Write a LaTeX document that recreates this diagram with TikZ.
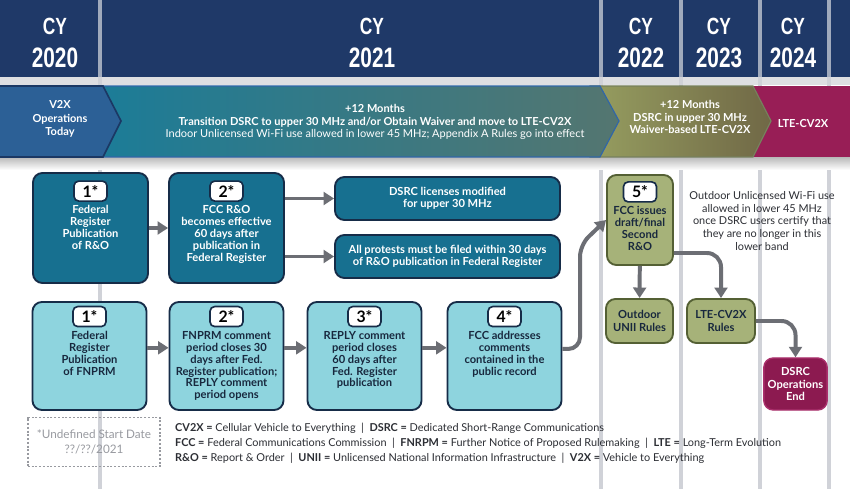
\documentclass[tikz,border=0pt]{standalone}
\usepackage{fontspec}
\setmainfont{Lato}
\newfontfamily\headfont{Liberation Sans}
\usepackage{graphicx}
\usetikzlibrary{positioning,arrows.meta,calc}
\definecolor{navy}{RGB}{31,57,104}
\definecolor{divline}{RGB}{208,210,216}
\definecolor{hdrline}{RGB}{160,170,188}
\definecolor{strip}{RGB}{222,223,226}
\definecolor{v2xblue}{RGB}{44,96,150}
\definecolor{v2xline}{RGB}{27,56,100}
\definecolor{bandteal}{RGB}{27,124,152}
\definecolor{bandtealend}{RGB}{84,118,112}
\definecolor{bandedge}{RGB}{48,102,168}
\definecolor{oliveA}{RGB}{150,158,96}
\definecolor{oliveB}{RGB}{204,204,152}
\definecolor{oliveC}{RGB}{112,104,70}
\definecolor{plum}{RGB}{152,30,86}
\definecolor{darkteal}{RGB}{23,112,144}
\definecolor{lightteal}{RGB}{142,212,222}
\definecolor{boxline}{RGB}{22,44,72}
\definecolor{olivefill}{RGB}{166,178,121}
\definecolor{oliveline}{RGB}{84,96,52}
\definecolor{plumfill}{RGB}{140,26,80}
\definecolor{plumline}{RGB}{170,48,108}
\definecolor{arrowgray}{RGB}{108,110,116}
\definecolor{inktext}{RGB}{24,40,62}
\definecolor{notetext}{RGB}{44,46,52}
\definecolor{legendgray}{RGB}{152,154,160}
\newcommand{\cyhead}[1]{{\fontsize{20}{28}\selectfont\scalebox{0.74}[1]{CY}}\\\scalebox{0.74}[1]{#1}}
\tikzset{
    hdr/.style={text=white, font=\headfont\bfseries\fontsize{24}{28}\selectfont, align=center},
    bandtext/.style={text=white, align=center, font=\fontsize{9.4}{10.4}\selectfont},
    dkbox/.style={draw=boxline, fill=darkteal, rounded corners=8pt, line width=1.6pt, minimum width=3.45cm, minimum height=3.3cm},
    ltbox/.style={draw=boxline, fill=lightteal, rounded corners=8pt, line width=1.6pt, minimum width=3.42cm, minimum height=3.24cm},
    widebox/.style={dkbox, minimum width=6.75cm, minimum height=1.29cm, text=white, align=center, font=\bfseries\fontsize{9.5}{10.4}\selectfont},
    olbox/.style={draw=oliveline, fill=olivefill, rounded corners=8pt, line width=1.6pt, text=inktext, align=center, font=\bfseries\fontsize{9.5}{10.4}\selectfont},
    endbox/.style={draw=plumline, fill=plumfill, rounded corners=8pt, line width=1.2pt, text=white, align=center, font=\bfseries\fontsize{9.5}{10.4}\selectfont, minimum width=1.77cm, minimum height=1.56cm},
    badge/.style={draw=boxline, fill=white, rounded corners=4pt, line width=1.4pt, minimum width=0.99cm, minimum height=0.6cm, inner sep=0pt, text=black, font=\bfseries\fontsize{13.5}{13.5}\selectfont},
    boxtext/.style={align=center, inner sep=0pt, font=\bfseries\fontsize{9.5}{10.2}\selectfont},
    arrow/.style={-{Triangle[length=9pt,width=11pt]}, line width=3.4pt, draw=arrowgray},
    datebox/.style={draw=legendgray, dash pattern=on 1.6pt off 1.6pt, line width=1pt, minimum width=3.96cm, minimum height=1.47cm, text=legendgray, align=center, font=\fontsize{10}{12.8}\selectfont},
    abbr/.style={text=notetext, align=left, inner sep=0pt, font=\fontsize{9.3}{12.8}\selectfont}
}
\begin{document}
\begin{tikzpicture}[x=0.03cm,y=-0.03cm]
\useasboundingbox (0,0) rectangle (850,489);
\fill[white] (0,0) rectangle (850,489);
\fill[strip] (0,77) rectangle (850,85);
\fill[navy] (0,0) rectangle (850,77);
\foreach \x in {100,601,681,760,829}{
    \draw[divline, line width=2.6pt] (\x,77) -- (\x,489);
    \draw[hdrline, line width=2.6pt] (\x,0) -- (\x,77);
}
\foreach \n/\x/\yr in {c20/55/2020,c21/372/2021,c22/641/2022,c23/719/2023,c24/793/2024}
    \node[hdr] (\n) at (\x,43) {\cyhead{\yr}};
\shade[top color=gray!55, bottom color=white] (0,157) rectangle (850,170);
\fill[plum] (745,86) rectangle (850,157);
\path[left color=oliveA, middle color=oliveB, right color=oliveC, draw=oliveline!80, line width=1pt] (590,86) -- (753,86) -- (771,121) -- (753,157) -- (590,157) -- cycle;
\path[left color=bandteal, middle color=bandteal, right color=bandtealend, draw=bandedge, line width=1pt] (95,86) -- (600,86) -- (619,121) -- (600,157) -- (95,157) -- cycle;
\path[fill=v2xblue, draw=v2xline, line width=1.4pt] (-2,86) -- (103,86) -- (121,121) -- (103,157) -- (-2,157) -- cycle;
\node[bandtext, font=\bfseries\fontsize{9.4}{11.6}\selectfont] (v2x) at (60,119) {V2X\\Operations\\Today};
\node[bandtext] (trans) at (375,122) {\textbf{+12 Months}\\\textbf{Transition DSRC to upper 30 MHz and/or Obtain Waiver and move to LTE-CV2X}\\Indoor Unlicensed Wi-Fi use allowed in lower 45 MHz; Appendix A Rules go into effect};
\node[bandtext, font=\bfseries\fontsize{9.4}{10.8}\selectfont] (waiver) at (690,117) {+12 Months\\DSRC in upper 30 MHz\\Waiver-based LTE-CV2X};
\node[bandtext, font=\bfseries\fontsize{9.4}{10.4}\selectfont] (ltecv) at (803,124) {LTE-CV2X};

\node[dkbox] (b1) at (90.5,228) {};
\node[badge, below=7pt of b1.north] (b1n) {1*};
\node[boxtext, text=white, below=3pt of b1n] (b1t) {Federal\\Register\\Publication\\of R\&O};
\node[dkbox] (b2) at (226.5,228) {};
\node[badge, below=7pt of b2.north] (b2n) {2*};
\node[boxtext, text=white, below=3pt of b2n] (b2t) {FCC R\&O\\becomes effective\\60 days after\\publication in\\Federal Register};
\node[widebox] (d1) at (447.5,198.5) {DSRC licenses modified\\for upper 30 MHz};
\node[widebox] (d2) at (447.5,256.5) {All protests must be filed within 30 days\\of R\&O publication in Federal Register};
\draw[arrow] (b1) -- (b2);
\draw[arrow] (b2.east |- d1) -- (d1);
\draw[arrow] (b2.east |- d2) -- (d2);

\foreach \n/\x/\num/\txt in {f1/89.5/1*/{Federal\\Register\\Publication\\of FNPRM},
    f2/226.5/2*/{FNPRM comment\\period closes 30\\days after Fed.\\Register publication;\\REPLY comment\\period opens},
    f3/364.5/3*/{REPLY comment\\period closes\\60 days after\\Fed. Register\\publication},
    f4/504.5/4*/{FCC addresses\\comments\\contained in the\\public record}}{
    \node[ltbox] (\n) at (\x,356) {};
    \node[badge, below=4pt of \n.north] (\n n) {\num};
    \node[boxtext, text=inktext, below=3pt of \n n] (\n t) {\txt};
}
\foreach \a/\b in {f1/f2,f2/f3,f3/f4}
    \draw[arrow] ([yshift=7pt]\a.east) -- ([yshift=7pt]\b.west);

\node[olbox, minimum width=1.98cm, minimum height=2.7cm] (b5) at (640,220) {};
\node[badge, below=6pt of b5.north] (b5n) {5*};
\node[boxtext, text=inktext, below=3pt of b5n] (b5t) {FCC issues\\draft/final\\Second\\R\&O};
\node[olbox, minimum width=2.01cm, minimum height=1.32cm] (u1) at (639.5,321) {Outdoor\\UNII Rules};
\node[olbox, minimum width=2.04cm, minimum height=1.32cm] (l1) at (721,321) {LTE-CV2X\\Rules};
\node[endbox] (e1) at (795.5,384) {DSRC\\Operations\\End};
\draw[arrow, rounded corners=10pt] ([yshift=6pt]f4.east) -| (580,245) -- (b5.west);
\draw[arrow] (b5) -- (u1);
\draw[arrow, rounded corners=12pt] (b5.east |- 0,253) -| (l1);
\draw[arrow, rounded corners=12pt] (l1) -| (e1);

\node[text=notetext, align=center, font=\fontsize{9.3}{10.9}\selectfont] (wifi) at (762,221) {Outdoor Unlicensed Wi-Fi use\\allowed in lower 45 MHz\\once DSRC users certify that\\they are no longer in this\\lower band};
\node[datebox] (undef) at (94,442) {*Undefined Start Date\\??/??/2021};
\node[abbr, anchor=west] (legend) at (175,443) {\textbf{CV2X =} Cellular Vehicle to Everything\ \ |\ \ \textbf{DSRC =} Dedicated Short-Range Communications\\\textbf{FCC =} Federal Communications Commission\ \ |\ \ \textbf{FNRPM =} Further Notice of Proposed Rulemaking\ \ |\ \ \textbf{LTE =} Long-Term Evolution\\\textbf{R\&O =} Report \& Order\ \ |\ \ \textbf{UNII =} Unlicensed National Information Infrastructure\ \ |\ \ \textbf{V2X =} Vehicle to Everything};
\end{tikzpicture}
\end{document}
